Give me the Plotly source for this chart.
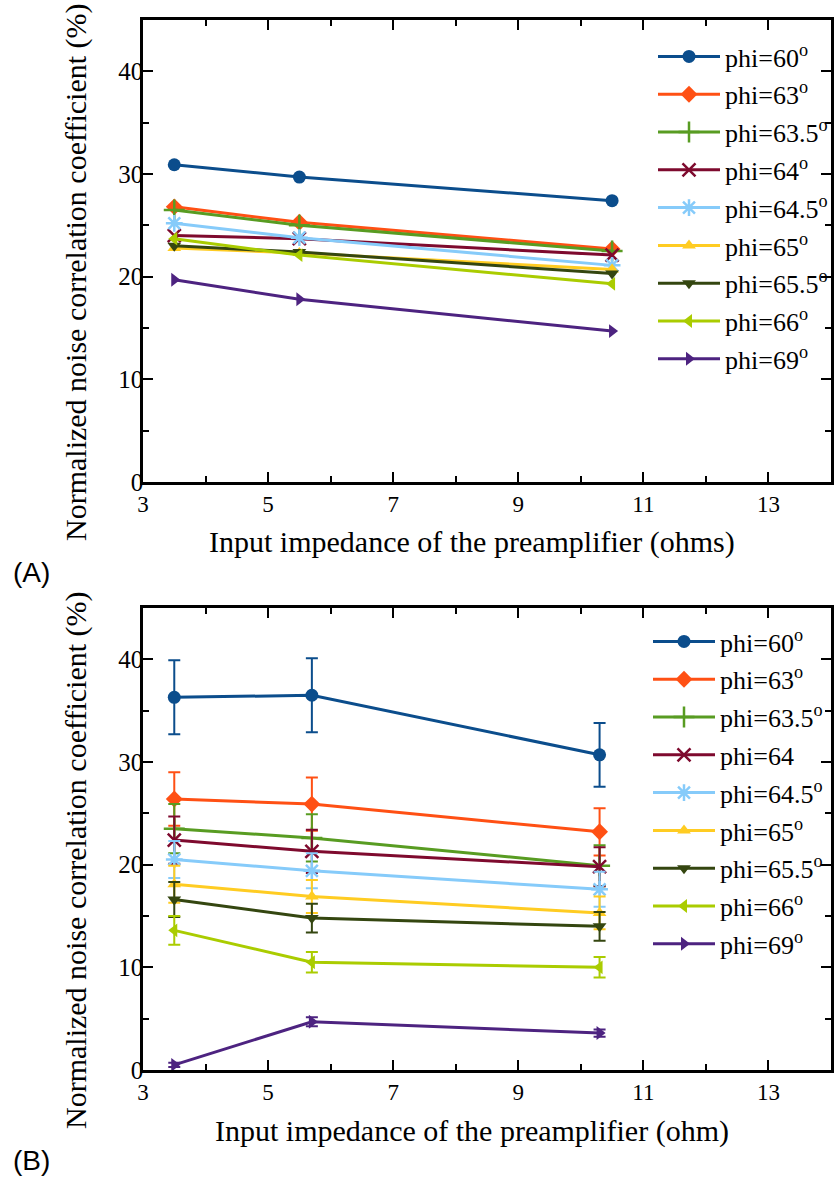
import plotly.graph_objects as go

# ---- data ----
labels_a = ["phi=60<sup>o</sup>", "phi=63<sup>o</sup>", "phi=63.5<sup>o</sup>", "phi=64<sup>o</sup>",
            "phi=64.5<sup>o</sup>", "phi=65<sup>o</sup>", "phi=65.5<sup>o</sup>", "phi=66<sup>o</sup>",
            "phi=69<sup>o</sup>"]
labels_b = ["phi=60<sup>o</sup>", "phi=63<sup>o</sup>", "phi=63.5<sup>o</sup>", "phi=64",
            "phi=64.5<sup>o</sup>", "phi=65<sup>o</sup>", "phi=65.5<sup>o</sup>", "phi=66<sup>o</sup>",
            "phi=69<sup>o</sup>"]

x_a = [3.5, 5.5, 10.5]
y_a = [
    [30.9, 29.7, 27.4],
    [26.8, 25.3, 22.7],
    [26.5, 25.0, 22.5],
    [24.0, 23.7, 22.1],
    [25.2, 23.8, 21.1],
    [22.8, 22.3, 20.7],
    [23.0, 22.4, 20.3],
    [23.7, 22.1, 19.3],
    [19.7, 17.8, 14.7],
]

x_b = [3.5, 5.7, 10.3]
y_b = [
    [36.3, 36.5, 30.7],
    [26.4, 25.9, 23.2],
    [23.5, 22.6, 19.9],
    [22.4, 21.3, 19.8],
    [20.5, 19.4, 17.6],
    [18.1, 16.9, 15.3],
    [16.6, 14.8, 14.0],
    [13.6, 10.5, 10.0],
    [0.5, 4.7, 3.6],
]
err_b = [
    [3.6, 3.6, 3.1],
    [2.6, 2.6, 2.3],
    [2.4, 2.3, 2.0],
    [2.3, 2.1, 1.9],
    [1.8, 1.7, 1.7],
    [1.8, 1.6, 1.6],
    [1.7, 1.4, 1.4],
    [1.4, 1.0, 1.0],
    [0.2, 0.45, 0.35],
]

colors = ["#0B4D8C", "#FF5014", "#589C22", "#7E0A2E", "#86CBFA",
          "#FFCC22", "#344610", "#AACC00", "#4D2380"]
symbols = ["circle", "diamond", "cross-thin", "x-thin", "asterisk",
           "triangle-up", "triangle-down", "triangle-left", "triangle-right"]
sizes = [13, 13, 15, 13, 14, 12, 12, 12, 12]

x_title_a = "Input impedance of the preamplifier (ohms)"
x_title_b = "Input impedance of the preamplifier (ohm)"
y_title = "Normalized noise correlation coefficient (%)"

SERIF = "Liberation Serif"
SANS = "Liberation Sans"
W, H = 838, 1181

fig = go.Figure()


def marker_for(i):
    thin = symbols[i] in ("cross-thin", "x-thin", "asterisk")
    return dict(symbol=symbols[i], size=sizes[i], color=colors[i],
                line=dict(color=colors[i], width=2.5 if thin else 0))


for i in range(len(labels_a)):
    fig.add_trace(go.Scatter(
        x=x_a, y=y_a[i], mode="lines+markers", name=labels_a[i],
        line=dict(color=colors[i], width=3), marker=marker_for(i),
        xaxis="x", yaxis="y", legend="legend", legendgroup=f"a{i}"))

for i in range(len(labels_b)):
    fig.add_trace(go.Scatter(
        x=x_b, y=y_b[i], mode="lines+markers", name=labels_b[i],
        line=dict(color=colors[i], width=3), marker=marker_for(i),
        error_y=dict(type="data", array=err_b[i], color=colors[i], thickness=2, width=6),
        xaxis="x2", yaxis="y2", legend="legend2", legendgroup=f"b{i}"))

xd = [143 / W, 831 / W]
yd_a = [1 - 482 / H, 1 - 20 / H]
yd_b = [1 - 1070 / H, 1 - 608 / H]

axis_common = dict(
    showline=True, linecolor="black", linewidth=2.5, mirror="ticks",
    ticks="inside", ticklen=10, tickwidth=2, tickcolor="black",
    showgrid=False, zeroline=False,
)

xaxis = dict(axis_common, range=[3, 14], tickmode="array",
             tickvals=[3, 5, 7, 9, 11, 13], ticktext=["3", "5", "7", "9", "11", "13"],
             tickfont=dict(family=SERIF, size=23, color="black"),
             minor=dict(tickmode="array", tickvals=[4, 6, 8, 10, 12], ticks="inside",
                        ticklen=6, tickwidth=2, tickcolor="black"),
             domain=xd)
yaxis = dict(axis_common, range=[0, 45], tickmode="array",
             tickvals=[0, 10, 20, 30, 40],
             tickfont=dict(family=SERIF, size=25, color="black"),
             ticklabelstandoff=-8,
             minor=dict(tickmode="array", tickvals=[5, 15, 25, 35], ticks="inside",
                        ticklen=6, tickwidth=2, tickcolor="black"))

legend_common = dict(xanchor="left", yanchor="top",
                     font=dict(family=SERIF, size=26, color="black"),
                     bgcolor="rgba(0,0,0,0)", tracegroupgap=1, traceorder="grouped",
                     itemwidth=62)

fig.update_layout(
    template="none",
    width=W, height=H,
    margin=dict(l=0, r=0, t=0, b=0),
    paper_bgcolor="white", plot_bgcolor="white",
    font=dict(family=SERIF, size=22, color="black"),
    xaxis=dict(xaxis, anchor="y"),
    yaxis=dict(yaxis, domain=yd_a, anchor="x"),
    xaxis2=dict(xaxis, anchor="y2"),
    yaxis2=dict(yaxis, domain=yd_b, anchor="x2"),
    legend=dict(legend_common, x=653 / W, y=1 - 33 / H),
    legend2=dict(legend_common, x=648 / W, y=1 - 618 / H),
    showlegend=True,
)

annotations = [
    dict(text=x_title_a, x=472 / W, y=1 - 542 / H),
    dict(text=x_title_b, x=472 / W, y=1 - 1131 / H),
    dict(text=y_title, x=76 / W, y=1 - 272 / H, textangle=-90),
    dict(text=y_title, x=76 / W, y=1 - 860 / H, textangle=-90),
]
for a in annotations:
    fig.add_annotation(xref="paper", yref="paper", showarrow=False,
                       xanchor="center", yanchor="middle",
                       font=dict(family=SERIF, size=30, color="black"), **a)

fig.add_annotation(text="(A)", xref="paper", yref="paper", x=11 / W, y=1 - 572 / H,
                   xanchor="left", yanchor="middle", showarrow=False,
                   font=dict(family=SANS, size=28, color="black"))
fig.add_annotation(text="(B)", xref="paper", yref="paper", x=11 / W, y=1 - 1160 / H,
                   xanchor="left", yanchor="middle", showarrow=False,
                   font=dict(family=SANS, size=28, color="black"))

fig.write_html(
    "out.html",
    config={"displayModeBar": False},
    post_script="document.body.style.margin='0';document.body.style.padding='0';"
                "document.documentElement.style.overflow='hidden';",
)
